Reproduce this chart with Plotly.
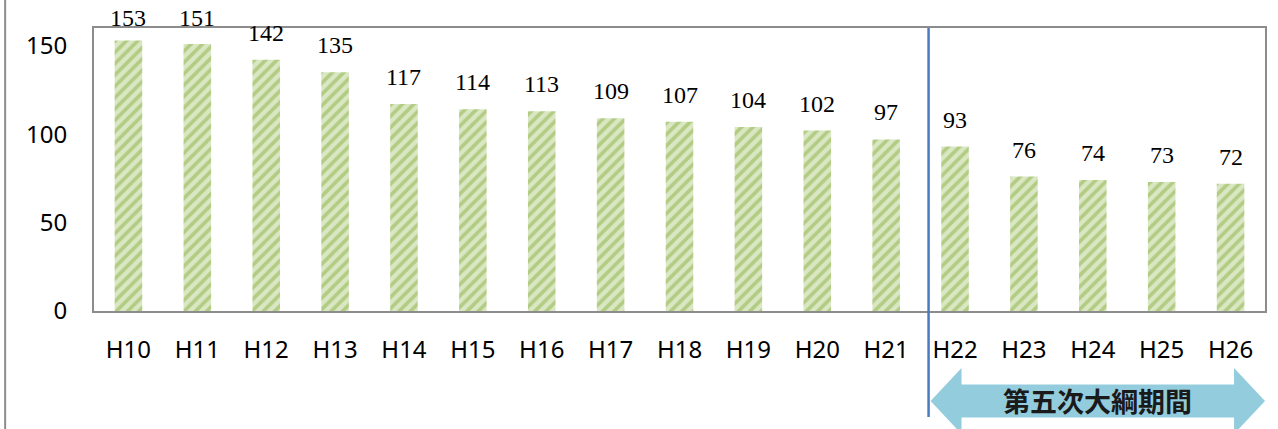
import plotly.graph_objects as go

categories = ["H10", "H11", "H12", "H13", "H14", "H15", "H16", "H17", "H18",
              "H19", "H20", "H21", "H22", "H23", "H24", "H25", "H26"]
values = [153, 151, 142, 135, 117, 114, 113, 109, 107, 104, 102, 97, 93, 76, 74, 73, 72]
y_ticks = [0, 50, 100, 150]
period_label = "第五次大綱期間"

W, H = 1278, 429
L, R, T, B = 94, 11, 28, 118
PW, PH = W - L - R, H - T - B
YMAX = 160


def px_x(p):
    return (p - L) / PW


def px_y(p):
    return (H - B - p) / PH


fig = go.Figure()
fig.add_trace(go.Bar(
    x=categories, y=values,
    marker=dict(color="#DAE7C3", line=dict(width=0),
                pattern=dict(shape="/", fgcolor="#B2CC84", bgcolor="#DAE7C3",
                             size=8, solidity=0.45, fillmode="replace")),
    width=0.4, hoverinfo="skip",
))

# data labels
for c, v in zip(categories, values):
    bar_top_px = (H - B) - v / YMAX * PH
    off = min(27, bar_top_px - 18)
    fig.add_annotation(x=c, y=v, text=str(v), showarrow=False, yanchor="middle",
                       xanchor="center", yshift=off,
                       font=dict(family="Liberation Serif", size=24, color="#000"))

# outer left border line
fig.add_shape(type="line", xref="paper", yref="paper",
              x0=px_x(5), x1=px_x(5), y0=px_y(H), y1=px_y(0),
              line=dict(color="#8C8C8C", width=2))

# blue divider line
fig.add_shape(type="line", xref="paper", yref="paper",
              x0=px_x(930), x1=px_x(930), y0=px_y(417), y1=px_y(T),
              line=dict(color="#4A7BBF", width=2.5))

# double arrow
xl, xr = 932, 1267
hb_l, hb_r = 963, 1236
yc, bh, hh = 401, 16.5, 33
pts = [(xl, yc), (hb_l, yc - hh), (hb_l, yc - bh), (hb_r, yc - bh), (hb_r, yc - hh),
       (xr, yc), (hb_r, yc + hh), (hb_r, yc + bh), (hb_l, yc + bh), (hb_l, yc + hh)]
path = "M " + " L ".join(f"{px_x(a):.5f},{px_y(b):.5f}" for a, b in pts) + " Z"
fig.add_shape(type="path", xref="paper", yref="paper", path=path,
              fillcolor="#93CDDD", line=dict(width=0), layer="above")
fig.add_annotation(xref="paper", yref="paper", x=px_x(1099), y=px_y(400),
                   xanchor="center", yanchor="middle",
                   text="<b>" + period_label + "</b>", showarrow=False,
                   font=dict(family="Noto Sans CJK JP", size=27, color="#1A1A1A"))

fig.update_layout(
    width=W, height=H, margin=dict(l=L, r=R, t=T, b=B),
    paper_bgcolor="white", plot_bgcolor="white", showlegend=False,
    bargap=0.6,
    xaxis=dict(type="category", showline=True, linecolor="#8C8C8C", linewidth=2,
               mirror=True, ticks="", showgrid=False,
               tickfont=dict(family="Noto Sans", size=24, color="#000"),
               ticklabelstandoff=16),
    yaxis=dict(range=[0, YMAX], tickvals=y_ticks, showline=True, linecolor="#8C8C8C",
               linewidth=2, mirror=True, ticks="", showgrid=False, zeroline=False,
               tickfont=dict(family="Noto Sans", size=24, color="#000"),
               ticklabelstandoff=20),
)

fig.write_html("out.html")
